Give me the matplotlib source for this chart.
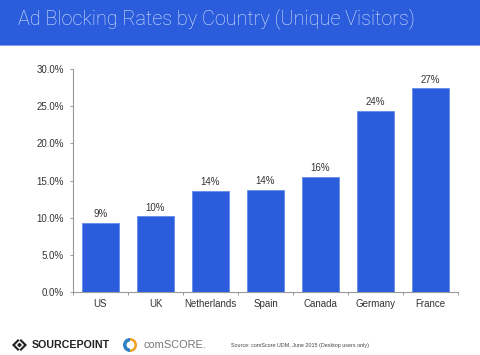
import matplotlib
matplotlib.use("Agg")
import matplotlib.pyplot as plt
from matplotlib.patches import Rectangle, Wedge, Polygon

countries = ["US", "UK", "Netherlands", "Spain", "Canada", "Germany", "France"]
rates = [9.3, 10.2, 13.6, 13.8, 15.5, 24.4, 27.4]
rate_labels = ["9%", "10%", "14%", "14%", "16%", "24%", "27%"]
y_ticks = [0, 5, 10, 15, 20, 25, 30]
y_labels = ["0.0%", "5.0%", "10.0%", "15.0%", "20.0%", "25.0%", "30.0%"]

BLUE = "#2a5cdc"
W, H = 480, 355

plt.rcParams["font.family"] = ["Liberation Sans", "DejaVu Sans"]

fig = plt.figure(figsize=(W / 100, H / 100), dpi=100, facecolor="white")

# whole figure overlay in pixel coordinates, y pointing down
bg = fig.add_axes([0, 0, 1, 1])
bg.set_xlim(0, W)
bg.set_ylim(H, 0)
bg.axis("off")
bg.add_patch(Rectangle((0, 0), W, 45, color=BLUE, lw=0))
bg.add_patch(Rectangle((0, 44.5), W, 1, color="#7fa0ea", lw=0))
bg.text(18, 19, "Ad Blocking Rates by Country (Unique Visitors)", color="#dbe6fb",
        fontsize=14.3, family=["Roboto", "DejaVu Sans"], fontweight="light", va="center", ha="left")

# sourcepoint logo
dark = "#222222"
bg.add_patch(Polygon([[12, 345], [18, 339], [19.5, 340.5], [15, 345], [19.5, 349.5], [18, 351]], color=dark, lw=0))
bg.add_patch(Polygon([[27, 345], [21, 339], [19.5, 340.5], [24, 345], [19.5, 349.5], [21, 351]], color=dark, lw=0))
bg.add_patch(Polygon([[19.5, 342.5], [22, 345], [19.5, 347.5], [17, 345]], color=dark, lw=0))
bg.text(32, 345, "SOURCEPOINT", color=dark, fontsize=7.7, fontweight="bold", va="center", ha="left")

# comscore logo
bg.add_patch(Wedge((130, 345), 7, 90, 270, width=3.5, color="#2f7fc4", lw=0))
bg.add_patch(Wedge((130, 345), 7, 270, 90, width=2.5, color="#f0a020", lw=0))
bg.text(143, 345, "comSCORE.", color="#777777", fontsize=7.9, va="center", ha="left")

bg.text(231, 346, "Source: comScore UDM, June 2015 (Desktop users only)", color="#444444",
        fontsize=3.9, va="center", ha="left")

# chart axes: x 73..458, y 292..69 in pixels
ax = fig.add_axes([73 / W, 1 - 292.3 / H, 385 / W, (292.3 - 69) / H])
ax.patch.set_alpha(0)
x = list(range(len(countries)))
bars = ax.bar(x, rates, width=0.67, color=BLUE, edgecolor="#5b86e6", linewidth=0.5)
for b, lab in zip(bars, rate_labels):
    ax.text(b.get_x() + b.get_width() / 2, b.get_height() + 0.5, lab, ha="center", va="bottom",
            fontsize=7, color="#333333")

ax.set_xlim(-0.5, 6.5)
ax.set_ylim(0, 30)
ax.set_yticks(y_ticks)
ax.set_yticklabels(y_labels, fontsize=7, color="#333333")
ax.set_xticks([i - 0.5 for i in range(8)])
ax.set_xticklabels([])
ax.set_xticks(x, minor=True)
ax.set_xticklabels(countries, minor=True, fontsize=7, color="#333333")
ax.tick_params(axis="x", which="major", length=2.5, color="#999999", width=0.7)
ax.tick_params(axis="x", which="minor", length=0, pad=4.5)
ax.tick_params(axis="y", length=2.5, color="#999999", width=0.7, pad=4)
for s in ["top", "right"]:
    ax.spines[s].set_visible(False)
for s in ["left", "bottom"]:
    ax.spines[s].set_color("#999999")
    ax.spines[s].set_linewidth(0.8)

fig.savefig("out.png", dpi=100)
